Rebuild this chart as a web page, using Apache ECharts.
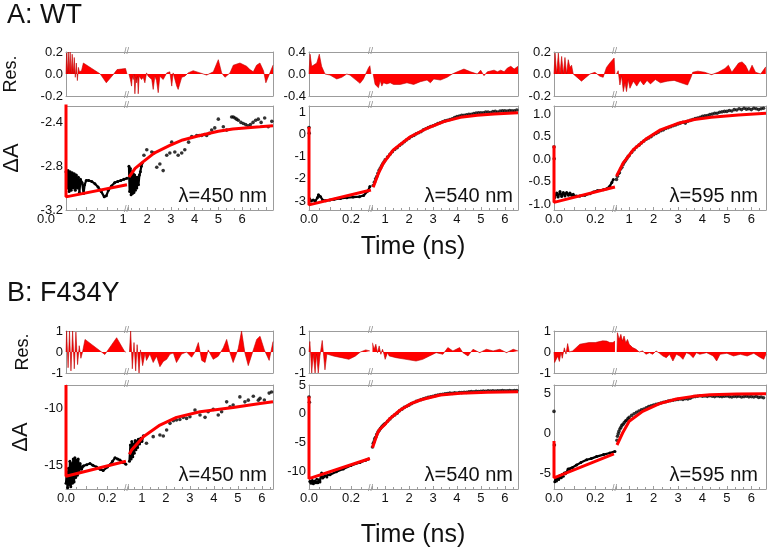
<!DOCTYPE html>
<html><head><meta charset="utf-8">
<script src="https://cdn.jsdelivr.net/npm/echarts@6/dist/echarts.min.js"></script>
<style>html,body{margin:0;padding:0;background:#fff}#c{width:769px;height:558px}</style>
</head><body><div id="c"></div>
<script>
// ---------------- DATA (time in ns, ΔA / residual values) ----------------
// A: WT, λ=450 nm
const a450EarlyData = [[0.100,-2.85],[0.105,-3.0],[0.110,-2.84],[0.115,-3.03],[0.120,-2.85],[0.125,-3.02],[0.130,-2.86],[0.135,-3.0],[0.140,-2.87],[0.145,-3.02],[0.150,-2.88],[0.155,-3.0],[0.160,-2.9],[0.165,-3.04],[0.170,-2.92],[0.178,-2.95],[0.185,-3.05],[0.19,-2.97],[0.198,-2.93],[0.21,-2.93],[0.225,-2.94],[0.24,-2.96],[0.255,-2.99],[0.27,-3.03],[0.285,-3.08],[0.295,-3.07],[0.305,-3.02],[0.32,-2.98],[0.335,-2.95],[0.35,-2.94],[0.365,-2.93],[0.38,-2.92],[0.395,-2.91]];
const a450EarlyDots = [];
const a450LateDense = [[1.24,-2.8],[1.27,-3.03],[1.30,-2.82],[1.33,-3.06],[1.36,-2.85],[1.39,-3.05],[1.42,-2.87],[1.45,-3.04],[1.48,-2.88],[1.51,-3.02],[1.54,-2.9],[1.57,-3.0],[1.6,-2.9],[1.64,-2.97],[1.68,-2.88],[1.72,-2.85],[1.76,-2.8],[1.8,-2.77]];
const a450LateData = [[1.87,-2.7],[1.99,-2.65],[2.2,-2.67],[2.29,-2.68],[2.41,-2.81],[2.54,-2.78],[2.68,-2.84],[2.83,-2.7],[2.96,-2.68],[3.04,-2.58],[3.17,-2.67],[3.31,-2.7],[3.46,-2.68],[3.59,-2.65],[3.75,-2.58],[3.88,-2.53],[4.09,-2.52],[4.2,-2.52],[4.3,-2.52],[4.41,-2.51],[4.51,-2.52],[4.62,-2.5],[4.72,-2.47],[4.85,-2.45],[5.0,-2.37],[5.21,-2.44],[5.35,-2.47],[5.56,-2.35],[5.63,-2.35],[5.70,-2.36],[5.77,-2.37],[5.84,-2.38],[5.95,-2.4],[6.05,-2.41],[6.15,-2.42],[6.25,-2.43],[6.35,-2.42],[6.46,-2.40],[6.57,-2.38],[6.68,-2.37],[6.8,-2.4],[6.95,-2.36],[7.1,-2.44],[7.25,-2.39]];
const a450EarlyFit = [[0.1,-2.2],[0.1,-3.08],[0.395,-2.97]];
const a450LateFit = [[1.24,-2.9],[1.5,-2.82],[1.83,-2.76],[2.3,-2.68],[2.96,-2.61],[3.5,-2.56],[4.22,-2.52],[5,-2.48],[5.61,-2.46],[6.75,-2.44],[7.3,-2.43]];
const a450EarlyRes = [[0.1,0],[0.103,0.19],[0.107,0.0],[0.111,0.2],[0.115,0.01],[0.12,0.2],[0.125,0.0],[0.13,0.18],[0.135,0.0],[0.14,0.15],[0.145,-0.03],[0.15,0.1],[0.155,-0.06],[0.16,0.06],[0.165,0.02],[0.175,0.03],[0.184,0.10],[0.225,0.05],[0.266,0],[0.295,-0.08],[0.331,0],[0.347,0.04],[0.388,0.05],[0.395,0.0]];
const a450LateRes = [[1.24,0],[1.26,0.0],[1.30,-0.05],[1.35,-0.11],[1.38,-0.02],[1.42,-0.05],[1.45,0.0],[1.49,-0.18],[1.53,-0.03],[1.56,-0.08],[1.60,-0.02],[1.63,-0.18],[1.67,-0.02],[1.70,-0.02],[1.77,-0.05],[1.84,-0.03],[1.91,-0.08],[1.98,0.01],[2.05,-0.02],[2.12,-0.02],[2.2,-0.05],[2.26,-0.14],[2.33,-0.02],[2.40,-0.06],[2.47,-0.17],[2.54,-0.02],[2.68,-0.05],[2.83,0.01],[2.96,0.02],[3.04,-0.11],[3.10,0.01],[3.25,-0.11],[3.31,-0.14],[3.46,-0.03],[3.59,-0.02],[3.73,0.01],[3.94,0.03],[4.23,0.01],[4.51,-0.01],[4.79,0.02],[5.0,0.13],[5.14,0.01],[5.28,-0.03],[5.49,0.01],[5.63,0.08],[5.91,0.10],[6.19,0.07],[6.33,0.04],[6.47,0.02],[6.61,0.08],[6.75,0.10],[6.9,0.03],[7.0,-0.08],[7.15,0.0],[7.3,0.08]];

// A: WT, λ=540 nm
const a540EarlyData = [[0.003,-2.9],[0.01,-3.0],[0.02,-2.95],[0.03,-3.0],[0.04,-2.85],[0.045,-2.72],[0.055,-2.8],[0.065,-2.95],[0.08,-2.98],[0.1,-2.95],[0.12,-2.92],[0.15,-2.88],[0.18,-2.85],[0.21,-2.82],[0.24,-2.8],[0.26,-2.75],[0.28,-2.55],[0.29,-2.35]];
const a540EarlyDots = [[0,0.3],[0.001,0.05]];
const a540LateData = [[0.5,-2.3],[0.55,-2.15],[0.6,-2.0],[0.65,-1.9],[0.7,-1.75],[0.75,-1.62],[0.8,-1.52],[0.85,-1.42],[0.9,-1.32],[0.95,-1.25],[1.0,-1.15],[1.1,-1.02],[1.2,-0.9],[1.3,-0.78],[1.4,-0.68],[1.5,-0.6],[1.6,-0.5],[1.7,-0.42],[1.8,-0.33],[1.9,-0.25],[2.0,-0.18],[2.1,-0.1],[2.2,-0.05],[2.3,0.02],[2.4,0.07],[2.5,0.12],[2.6,0.2],[2.7,0.25],[2.8,0.3],[2.9,0.35],[3.0,0.38],[3.1,0.43],[3.2,0.48],[3.3,0.52],[3.4,0.56],[3.5,0.6],[3.6,0.63],[3.7,0.66],[3.8,0.7],[3.9,0.75],[4.0,0.8],[4.1,0.82],[4.2,0.85],[4.3,0.85],[4.4,0.88],[4.5,0.9],[4.6,0.9],[4.7,0.93],[4.8,0.95],[4.9,0.96],[5.0,0.97],[5.1,0.96],[5.2,1.0],[5.3,1.0],[5.4,0.98],[5.5,1.02],[5.6,1.03],[5.7,1.0],[5.8,1.04],[5.9,1.06],[6.0,1.05],[6.1,1.04],[6.2,1.07],[6.3,1.06],[6.4,1.05],[6.5,1.09]];
const a540EarlyFit = [[0,0.33],[0,-3.17],[0.295,-2.5]];
const a540LateFit = [[0.5,-2.38],[0.72,-1.75],[0.92,-1.3],[1.13,-1.0],[1.34,-0.7],[2.05,-0.11],[2.75,0.27],[3.45,0.57],[4.15,0.76],[4.85,0.85],[5.55,0.91],[6.55,0.97]];
const a540EarlyRes = [[0,0],[0.005,0.36],[0.013,0.14],[0.021,0.11],[0.037,0.2],[0.049,0.36],[0.06,0.14],[0.076,0],[0.084,0.03],[0.1,-0.02],[0.132,-0.09],[0.156,-0.06],[0.18,0],[0.195,-0.02],[0.227,-0.12],[0.243,-0.17],[0.259,-0.09],[0.283,0.11],[0.29,0.15],[0.295,0]];
const a540LateRes = [[0.5,0],[0.51,0.0],[0.58,-0.19],[0.65,-0.16],[0.72,-0.25],[0.79,-0.12],[0.86,-0.22],[0.93,-0.16],[1.07,-0.18],[1.21,-0.16],[1.35,-0.19],[1.63,-0.19],[1.91,-0.16],[2.19,-0.19],[2.47,-0.14],[2.75,-0.11],[2.89,-0.16],[3.03,-0.09],[3.31,-0.11],[3.59,-0.06],[3.80,0.0],[4.01,0.04],[4.29,0.09],[4.57,0.04],[4.85,0.0],[4.99,0.07],[5.13,-0.03],[5.27,0.04],[5.55,0.07],[5.69,0.04],[5.83,0.07],[5.97,0.04],[6.11,0.11],[6.25,0.14],[6.39,0.09],[6.55,0.14]];

// A: WT, λ=595 nm
const a595EarlyData = [[0.004,-0.85],[0.013,-0.75],[0.02,-0.84],[0.029,-0.72],[0.037,-0.83],[0.045,-0.74],[0.053,-0.82],[0.061,-0.74],[0.07,-0.8],[0.077,-0.75],[0.085,-0.8],[0.093,-0.78],[0.11,-0.82],[0.125,-0.82],[0.15,-0.8],[0.174,-0.77],[0.19,-0.73],[0.21,-0.7],[0.238,-0.68],[0.255,-0.66],[0.27,-0.6],[0.28,-0.52],[0.287,-0.45]];
const a595EarlyDots = [[0,0.27],[0.001,0.01]];
const a595LateData = [[0.48,-0.45],[0.52,-0.38],[0.56,-0.32],[0.6,-0.3],[0.65,-0.22],[0.7,-0.18],[0.75,-0.12],[0.8,-0.07],[0.85,-0.03],[0.9,0.01],[0.95,0.05],[1.0,0.08],[1.1,0.15],[1.2,0.21],[1.3,0.27],[1.4,0.31],[1.5,0.36],[1.6,0.4],[1.7,0.44],[1.8,0.47],[1.9,0.5],[2.0,0.54],[2.1,0.57],[2.2,0.6],[2.3,0.63],[2.4,0.65],[2.5,0.68],[2.6,0.7],[2.7,0.72],[2.8,0.74],[2.9,0.76],[3.0,0.78],[3.1,0.8],[3.2,0.82],[3.3,0.8],[3.4,0.84],[3.5,0.86],[3.6,0.88],[3.7,0.9],[3.8,0.91],[3.9,0.93],[4.0,0.95],[4.1,0.96],[4.2,0.97],[4.3,0.99],[4.4,1.0],[4.5,1.02],[4.6,1.02],[4.7,1.04],[4.8,1.05],[4.9,1.06],[5.0,1.06],[5.1,1.08],[5.2,1.07],[5.3,1.1],[5.4,1.09],[5.5,1.12],[5.6,1.1],[5.7,1.13],[5.8,1.11],[5.9,1.12],[6.0,1.1],[6.1,1.13],[6.2,1.12],[6.3,1.1],[6.4,1.12],[6.5,1.13]];
const a595EarlyFit = [[0,0.3],[0,-0.96],[0.295,-0.62]];
const a595LateFit = [[0.48,-0.38],[0.75,-0.09],[1.17,0.21],[1.72,0.46],[2.28,0.65],[2.97,0.79],[3.67,0.88],[4.36,0.93],[5.47,0.98],[6.6,1.02]];
const a595EarlyRes = [[0,0],[0.005,0.19],[0.013,0],[0.021,0.19],[0.029,0],[0.037,0.16],[0.045,0],[0.053,0.15],[0.061,0],[0.069,0.13],[0.077,0.06],[0.085,0.08],[0.093,0],[0.133,-0.065],[0.174,0],[0.198,0.015],[0.222,-0.02],[0.238,-0.03],[0.254,0.06],[0.27,0.1],[0.291,0.145],[0.295,0]];
const a595LateRes = [[0.48,0],[0.55,0.03],[0.62,-0.1],[0.69,-0.016],[0.76,-0.16],[0.83,-0.08],[0.89,-0.16],[0.96,-0.05],[1.03,-0.13],[1.17,-0.065],[1.31,-0.11],[1.45,-0.058],[1.59,-0.1],[1.73,-0.058],[1.87,-0.09],[2.07,-0.05],[2.28,-0.08],[2.56,-0.065],[2.84,-0.058],[3.12,-0.08],[3.39,-0.1],[3.53,-0.03],[3.6,0.016],[3.81,0.026],[4.09,0.016],[4.37,-0.006],[4.64,0.016],[4.92,0.05],[5.06,0.08],[5.2,0.016],[5.48,0.1],[5.62,0.11],[5.76,0.08],[5.9,0.016],[6.03,0.08],[6.17,0.016],[6.38,0.0],[6.59,0.065]];

// B: F434Y, λ=450 nm
const b450EarlyData = [[0.0,-16.5],[0.004,-15.5],[0.008,-16.9],[0.012,-15.2],[0.016,-16.6],[0.019,-14.6],[0.023,-16.8],[0.027,-14.8],[0.031,-16.5],[0.035,-14.4],[0.039,-16.4],[0.043,-14.3],[0.047,-16.0],[0.051,-14.5],[0.055,-15.8],[0.059,-14.4],[0.063,-15.6],[0.068,-14.8],[0.075,-15.3],[0.084,-15.0],[0.1,-14.9],[0.116,-14.8],[0.13,-14.95],[0.148,-15.1],[0.165,-15.3],[0.18,-15.4],[0.2,-15.1],[0.213,-14.9],[0.225,-14.6],[0.237,-14.3],[0.25,-14.4],[0.261,-14.5],[0.275,-14.7],[0.29,-14.85]];
const b450EarlyDots = [];
const b450LateDense = [[0.48,-14.6],[0.52,-13.2],[0.55,-14.4],[0.58,-12.9],[0.62,-14.2],[0.65,-13.1],[0.68,-13.9],[0.72,-12.8],[0.75,-13.6],[0.78,-12.9],[0.82,-13.4],[0.85,-12.7],[0.9,-13.1],[0.95,-12.6],[1.0,-12.9],[1.06,-12.4]];
const b450LateData = [[1.19,-13.04],[1.47,-12.47],[1.75,-12.33],[1.89,-12.41],[2.03,-11.9],[2.17,-11.32],[2.31,-11.09],[2.44,-11.03],[2.58,-10.98],[2.72,-10.8],[2.86,-10.89],[3.0,-10.75],[3.21,-10.17],[3.42,-10.6],[3.63,-10.8],[3.76,-10.32],[3.97,-10.11],[4.18,-10.6],[4.32,-10.32],[4.53,-9.46],[4.67,-9.89],[4.8,-9.74],[5.08,-9.03],[5.29,-9.46],[5.43,-9.31],[5.64,-8.97],[5.85,-9.31],[5.92,-9.16],[6.1,-9.3],[6.3,-8.7],[6.4,-8.6]];
const b450EarlyFit = [[0,-8],[0,-15.9],[0.29,-14.6]];
const b450LateFit = [[0.48,-14.0],[0.57,-13.62],[1.06,-12.47],[1.75,-11.47],[2.44,-10.8],[3.42,-10.32],[4.8,-9.94],[5.92,-9.6],[6.46,-9.45]];
const b450EarlyRes = [[0,0],[0.003,1.0],[0.01,-0.75],[0.017,1.0],[0.024,-0.9],[0.032,1.0],[0.04,-0.8],[0.048,0.95],[0.056,-0.6],[0.064,0.3],[0.072,-0.3],[0.08,0.0],[0.092,0.6],[0.188,-0.12],[0.245,0.68],[0.285,0.0],[0.29,0]];
const b450LateRes = [[0.48,0],[0.53,1.0],[0.6,-0.8],[0.67,0.45],[0.74,-0.9],[0.8,0.35],[0.88,-1.0],[0.94,0.1],[1.03,-0.65],[1.13,-0.05],[1.19,-0.4],[1.33,-0.1],[1.47,-0.5],[1.61,-0.2],[1.75,-0.7],[1.89,-0.45],[2.03,-0.35],[2.17,-0.1],[2.31,-0.05],[2.44,-0.5],[2.65,-0.1],[2.86,0.0],[3.07,-0.25],[3.21,0.0],[3.35,0.45],[3.49,-0.4],[3.63,-0.5],[3.76,0.1],[3.97,-0.35],[4.18,-0.2],[4.39,0.2],[4.53,0.6],[4.67,-0.05],[4.8,-0.5],[5.01,0.15],[5.15,1.0],[5.29,-0.05],[5.43,-0.65],[5.64,0.1],[5.78,0.6],[5.92,0.75],[6.1,0.1],[6.3,-0.4],[6.46,0.5]];

// B: F434Y, λ=540 nm
const b540EarlyData = [[0.004,-11.8],[0.01,-12.1],[0.016,-11.6],[0.021,-12.2],[0.028,-11.7],[0.033,-12.0],[0.037,-11.4],[0.042,-12.0],[0.047,-11.5],[0.052,-11.9],[0.057,-10.6],[0.06,-10.3],[0.065,-11.2],[0.07,-11.0],[0.076,-10.8],[0.085,-11.0],[0.1,-10.6],[0.13,-10.1],[0.163,-9.6],[0.2,-9.0],[0.243,-8.5],[0.27,-8.1],[0.283,-7.9]];
const b540EarlyDots = [[0,2.9],[0.002,2.0]];
const b540LateData = [[0.47,-5.8],[0.5,-5.2],[0.53,-4.9],[0.56,-4.4],[0.6,-4.1],[0.65,-3.6],[0.7,-3.2],[0.75,-2.9],[0.8,-2.6],[0.85,-2.3],[0.9,-2.1],[0.95,-1.9],[1.0,-1.7],[1.1,-1.3],[1.2,-0.9],[1.3,-0.5],[1.4,-0.2],[1.5,0.1],[1.6,0.5],[1.7,0.8],[1.8,1.1],[1.9,1.3],[2.0,1.5],[2.1,1.75],[2.2,1.95],[2.3,2.15],[2.4,2.3],[2.5,2.45],[2.6,2.6],[2.7,2.75],[2.8,2.85],[2.9,2.95],[3.0,3.05],[3.1,3.15],[3.2,3.25],[3.3,3.35],[3.4,3.4],[3.5,3.45],[3.6,3.5],[3.7,3.6],[3.8,3.55],[3.9,3.65],[4.0,3.6],[4.1,3.7],[4.2,3.68],[4.3,3.75],[4.4,3.72],[4.5,3.8],[4.6,3.85],[4.7,3.8],[4.8,3.9],[4.9,3.85],[5.0,3.9],[5.1,3.95],[5.2,3.9],[5.3,3.98],[5.4,3.95],[5.5,4.0],[5.6,3.95],[5.7,4.0],[5.8,3.97],[5.9,4.02],[6.0,3.98],[6.1,4.0],[6.2,4.05],[6.3,3.98],[6.4,4.02],[6.5,4.05]];
const b540EarlyFit = [[0,3.0],[0,-11.3],[0.29,-7.8]];
const b540LateFit = [[0.47,-5.9],[0.68,-3.41],[0.75,-2.84],[1.03,-1.67],[1.21,-0.8],[1.63,0.65],[2.05,1.7],[2.47,2.39],[2.75,2.68],[3.31,3.26],[4.15,3.55],[5.27,3.72],[6.55,3.84]];
const b540EarlyRes = [[0,0],[0.004,0.5],[0.009,-0.3],[0.013,-1.0],[0.02,-0.1],[0.029,-1.0],[0.036,-0.1],[0.044,-1.0],[0.052,-0.2],[0.063,0.55],[0.07,-0.2],[0.076,-0.85],[0.085,-0.1],[0.12,-0.2],[0.16,-0.28],[0.19,-0.35],[0.22,-0.2],[0.245,0.0],[0.27,0.1],[0.29,0.05]];
const b540LateRes = [[0.47,0.44],[0.54,0.13],[0.61,0.37],[0.68,-0.03],[0.75,0.29],[0.82,-0.11],[0.89,0.13],[0.95,-0.1],[1.0,-0.35],[1.1,-0.03],[1.17,-0.19],[1.45,-0.27],[1.87,-0.35],[2.29,-0.43],[2.57,-0.35],[2.85,-0.19],[3.13,-0.03],[3.41,-0.11],[3.62,0.21],[3.83,0.05],[4.11,0.21],[4.25,-0.03],[4.46,-0.19],[4.67,0.13],[4.95,-0.03],[5.23,0.13],[5.51,0.05],[5.79,0.13],[6.07,-0.03],[6.35,0.13],[6.55,0.05]];

// B: F434Y, λ=595 nm
const b595EarlyData = [[0.004,-6.1],[0.008,-5.6],[0.012,-6.0],[0.018,-5.5],[0.023,-5.8],[0.029,-5.3],[0.035,-5.6],[0.04,-5.2],[0.045,-5.4],[0.05,-5.0],[0.055,-5.1],[0.061,-4.9],[0.068,-4.5],[0.077,-4.6],[0.09,-4.3],[0.109,-4.0],[0.13,-3.7],[0.158,-3.35],[0.18,-3.2],[0.206,-2.95],[0.24,-2.7],[0.27,-2.5],[0.295,-2.3]];
const b595EarlyDots = [[0,2.7],[0.002,-1.5]];
const b595LateData = [[0.5,-0.9],[0.52,-0.4],[0.55,-0.1],[0.58,0.2],[0.62,0.5],[0.66,0.7],[0.7,0.95],[0.75,1.1],[0.8,1.3],[0.85,1.5],[0.9,1.6],[0.95,1.8],[1.0,1.95],[1.1,2.2],[1.2,2.4],[1.3,2.6],[1.4,2.75],[1.5,2.9],[1.6,3.0],[1.7,3.15],[1.8,3.3],[1.9,3.4],[2.0,3.5],[2.1,3.6],[2.2,3.65],[2.3,3.75],[2.4,3.85],[2.5,3.9],[2.6,4.0],[2.7,4.05],[2.8,4.1],[2.9,4.15],[3.0,4.2],[3.1,4.25],[3.2,4.2],[3.3,4.3],[3.4,4.25],[3.5,4.35],[3.6,4.5],[3.7,4.55],[3.8,4.6],[3.9,4.65],[4.0,4.6],[4.1,4.62],[4.2,4.58],[4.3,4.65],[4.4,4.6],[4.5,4.55],[4.6,4.62],[4.7,4.58],[4.8,4.55],[4.9,4.6],[5.0,4.62],[5.1,4.55],[5.2,4.5],[5.3,4.58],[5.4,4.55],[5.5,4.6],[5.6,4.5],[5.7,4.55],[5.8,4.6],[5.9,4.52],[6.0,4.55],[6.1,4.5],[6.2,4.58],[6.3,4.45],[6.4,4.5],[6.5,4.4]];
const b595EarlyFit = [[0,-1.0],[0,-5.6],[0.29,-2.6]];
const b595LateFit = [[0.5,-1.5],[0.52,-1.25],[0.73,0],[1.0,1.46],[1.55,2.7],[2.24,3.67],[2.93,4.25],[3.62,4.58],[4.31,4.79],[5.41,4.88],[6.6,4.92]];
const b595EarlyRes = [[0,0],[0.003,-0.5],[0.01,-0.45],[0.018,-0.2],[0.026,-0.45],[0.034,0.0],[0.04,-0.3],[0.05,0.2],[0.058,-0.1],[0.066,0.4],[0.074,0.0],[0.09,0.05],[0.125,0.37],[0.17,0.45],[0.2,0.45],[0.235,0.53],[0.255,0.52],[0.27,0.45],[0.285,0.45],[0.295,0.52]];
const b595LateRes = [[0.5,0],[0.52,0.92],[0.59,0.6],[0.66,0.84],[0.72,0.52],[0.79,0.76],[0.86,0.44],[0.93,0.6],[1.0,0.37],[1.14,0.21],[1.28,0.13],[1.41,0.0],[1.55,0.05],[1.69,-0.11],[1.83,-0.03],[1.96,-0.11],[2.1,0.05],[2.24,-0.06],[2.38,-0.19],[2.52,-0.27],[2.65,-0.11],[2.79,-0.43],[2.93,-0.11],[3.07,-0.19],[3.2,-0.35],[3.34,-0.03],[3.48,-0.11],[3.62,-0.27],[3.75,-0.03],[3.89,-0.11],[4.17,-0.03],[4.44,-0.19],[4.58,-0.43],[4.72,-0.11],[5.0,-0.06],[5.27,-0.19],[5.55,-0.11],[5.83,-0.19],[6.1,-0.06],[6.38,-0.27],[6.51,-0.35],[6.6,-0.1]];

const panelTitles = ['A: WT', 'B: F434Y'];
const waveLabels = ['λ=450 nm', 'λ=540 nm', 'λ=595 nm'];
const timeLabel = 'Time (ns)';

// ---------------- BUILD ----------------
const FONT = '"Liberation Sans", Arial, Helvetica, sans-serif';
const AX = '#9c9c9c';
const grids = [], xAxis = [], yAxis = [], series = [];

const cols = [
  {L: [66, 62], R: [128, 145]},
  {L: [309, 63], R: [372, 146]},
  {L: [554, 62], R: [616, 150]}
];
const rows = {A: {res: [52, 44], dat: [106, 104]}, B: {res: [331, 42], dat: [385, 104]}};

function yFmt(step, dec) {
  return function (v) {
    const k = v / step;
    if (Math.abs(k - Math.round(k)) > 1e-6) return '';
    return (Math.round(k) * step).toFixed(dec);
  };
}
function xFmtL(v) {
  if (Math.abs(v) < 1e-6) return '0.0';
  if (Math.abs(v - 0.2) < 1e-6) return '0.2';
  return '';
}
function xFmtR(v) {
  const r = Math.round(v);
  return (Math.abs(v - r) < 1e-6 && r >= 1 && r <= 6) ? String(r) : '';
}

function seg(o) {
  const gi = grids.length;
  grids.push({left: o.left, top: o.top, width: o.width, height: o.height, containLabel: false, outerBoundsMode: 'none'});
  const line = {show: true, onZero: false, lineStyle: {color: AX, width: 1}};
  const brk = o.side === 'L' ? {name: '//', nameLocation: 'end', nameGap: -4,
      nameTextStyle: {color: '#888', fontSize: 9, fontFamily: FONT}} : {};
  const xi = xAxis.length;
  xAxis.push(Object.assign({
    gridIndex: gi, type: 'value', position: 'bottom', min: o.x[0], max: o.x[1],
    minInterval: o.x[2], maxInterval: o.x[2],
    axisLine: line, splitLine: {show: false},
    axisTick: {show: o.isData, inside: true, length: 3, lineStyle: {color: AX}},
    minorTick: {show: o.isData, splitNumber: o.side === 'L' ? 2 : 3, length: 2, lineStyle: {color: AX}},
    axisLabel: {show: o.isData, formatter: o.side === 'L' ? xFmtL : xFmtR, margin: 3,
      fontSize: 13, color: '#111', fontFamily: FONT}
  }, brk));
  xAxis.push(Object.assign({
    gridIndex: gi, type: 'value', position: 'top', min: o.x[0], max: o.x[1],
    axisLine: line, axisTick: {show: false}, axisLabel: {show: false}, splitLine: {show: false}
  }, brk));
  const yi = yAxis.length;
  yAxis.push({
    gridIndex: gi, type: 'value', position: o.side === 'L' ? 'left' : 'right',
    min: o.y[0], max: o.y[1], minInterval: o.y[2], maxInterval: o.y[2],
    axisLine: line, axisTick: {show: false}, splitLine: {show: false},
    axisLabel: {show: o.side === 'L', formatter: yFmt(o.y[2], o.y[3]), margin: 3,
      fontSize: 13, color: '#111', fontFamily: FONT},
    name: o.yName || '', nameLocation: 'middle', nameGap: o.yNameGap || 0, nameRotate: 90,
    nameTextStyle: {fontSize: o.yNameSize || 18, color: '#111', fontFamily: FONT}
  });
  return {xAxisIndex: xi, yAxisIndex: yi};
}

function blackLine(ax, data) {
  series.push(Object.assign({type: 'line', data, symbol: 'circle', symbolSize: 3, showSymbol: true,
    showAllSymbol: true, itemStyle: {color: '#000'}, lineStyle: {color: '#000', width: 2.2},
    silent: true, animation: false, z: 2}, ax));
}
function blackDots(ax, data) {
  series.push(Object.assign({type: 'scatter', data, symbol: 'circle', symbolSize: 3.6,
    itemStyle: {color: '#000'}, silent: true, animation: false, z: 2}, ax));
}
function fitLine(ax, data) {
  series.push(Object.assign({type: 'line', data, symbol: 'none', lineStyle: {color: '#ff0000', width: 3},
    silent: true, animation: false, z: 4}, ax));
}
function resArea(ax, data) {
  series.push(Object.assign({type: 'line', data, symbol: 'none',
    lineStyle: {color: '#c00000', width: 0.6}, areaStyle: {color: '#ff0000', opacity: 1, origin: 'auto'},
    silent: true, animation: false, z: 3}, ax));
}

const plots = [
  {row: 'A', col: 0, xL: [0.1, 0.4, 0.1], xR: [1.2, 7.3, 1], yRes: [-0.2, 0.2, 0.2, 1], yDat: [-3.2, -2.25, 0.4, 1],
   eD: a450EarlyData, eDots: a450EarlyDots, lD: a450LateData, lDense: a450LateDense, eF: a450EarlyFit, lF: a450LateFit, eR: a450EarlyRes, lR: a450LateRes},
  {row: 'A', col: 1, xL: [0, 0.3, 0.1], xR: [0.45, 6.55, 1], yRes: [-0.4, 0.4, 0.4, 1], yDat: [-3.4, 1.27, 1, 0],
   eD: a540EarlyData, eDots: a540EarlyDots, lD: a540LateData, eF: a540EarlyFit, lF: a540LateFit, eR: a540EarlyRes, lR: a540LateRes},
  {row: 'A', col: 2, xL: [0, 0.3, 0.1], xR: [0.46, 6.6, 1], yRes: [-0.2, 0.2, 0.2, 1], yDat: [-1.13, 1.18, 0.5, 1],
   eD: a595EarlyData, eDots: a595EarlyDots, lD: a595LateData, eF: a595EarlyFit, lF: a595LateFit, eR: a595EarlyRes, lR: a595LateRes},
  {row: 'B', col: 0, xL: [0, 0.3, 0.1], xR: [0.42, 6.46, 1], yRes: [-1, 1, 1, 0], yDat: [-17, -8, 5, 0],
   eD: b450EarlyData, eDots: b450EarlyDots, lD: b450LateData, lDense: b450LateDense, eF: b450EarlyFit, lF: b450LateFit, eR: b450EarlyRes, lR: b450LateRes},
  {row: 'B', col: 1, xL: [0, 0.3, 0.1], xR: [0.45, 6.55, 1], yRes: [-1, 1, 1, 0], yDat: [-13.1, 5, 5, 0],
   eD: b540EarlyData, eDots: b540EarlyDots, lD: b540LateData, eF: b540EarlyFit, lF: b540LateFit, eR: b540EarlyRes, lR: b540LateRes},
  {row: 'B', col: 2, xL: [0, 0.3, 0.1], xR: [0.46, 6.6, 1], yRes: [-1, 1, 1, 0], yDat: [-7, 6, 5, 0],
   eD: b595EarlyData, eDots: b595EarlyDots, lD: b595LateData, eF: b595EarlyFit, lF: b595LateFit, eR: b595EarlyRes, lR: b595LateRes}
];

const nameGaps = {A: {res: 46, dat: 43}, B: {res: 34, dat: 34}};

plots.forEach(p => {
  const c = cols[p.col], r = rows[p.row];
  const first = p.col === 0;
  const resL = seg({left: c.L[0], width: c.L[1], top: r.res[0], height: r.res[1], x: p.xL, y: p.yRes, side: 'L', isData: false,
    yName: first ? 'Res.' : '', yNameGap: nameGaps[p.row].res, yNameSize: 18});
  const resR = seg({left: c.R[0], width: c.R[1], top: r.res[0], height: r.res[1], x: p.xR, y: p.yRes, side: 'R', isData: false});
  resArea(resL, p.eR); resArea(resR, p.lR);
  const datL = seg({left: c.L[0], width: c.L[1], top: r.dat[0], height: r.dat[1], x: p.xL, y: p.yDat, side: 'L', isData: true,
    yName: first ? 'ΔA' : '', yNameGap: nameGaps[p.row].dat, yNameSize: 22});
  const datR = seg({left: c.R[0], width: c.R[1], top: r.dat[0], height: r.dat[1], x: p.xR, y: p.yDat, side: 'R', isData: true});
  blackLine(datL, p.eD);
  if (p.eDots.length) blackDots(datL, p.eDots);
  if (p.lDense) blackLine(datR, p.lDense);
  blackDots(datR, p.lD);
  fitLine(datL, p.eF); fitLine(datR, p.lF);
});

function txt(text, x, y, size, align) {
  return {type: 'text', x, y, silent: true, z: 10,
    style: {text, font: size + 'px ' + FONT, fill: '#111', align: align, textAlign: align,
      verticalAlign: 'middle', textVerticalAlign: 'middle'}};
}
const graphic = [
  txt(panelTitles[0], 7, 16, 27, 'left'),
  txt(panelTitles[1], 7, 294, 27, 'left'),
  txt(timeLabel, 413, 247, 25, 'center'),
  txt(timeLabel, 413, 535, 25, 'center'),
  txt(waveLabels[0], 267, 196, 20, 'right'),
  txt(waveLabels[1], 513, 196, 20, 'right'),
  txt(waveLabels[2], 758, 196, 20, 'right'),
  txt(waveLabels[0], 267, 475, 20, 'right'),
  txt(waveLabels[1], 513, 475, 20, 'right'),
  txt(waveLabels[2], 758, 475, 20, 'right'),
  txt('0.0', 46, 219, 13, 'center'),
  txt('1', 123, 219, 13, 'center')
];

const chart = echarts.init(document.getElementById('c'), null, {renderer: 'canvas'});
chart.setOption({animation: false, backgroundColor: '#fff', grid: grids, xAxis, yAxis, series, graphic});
</script></body></html>
